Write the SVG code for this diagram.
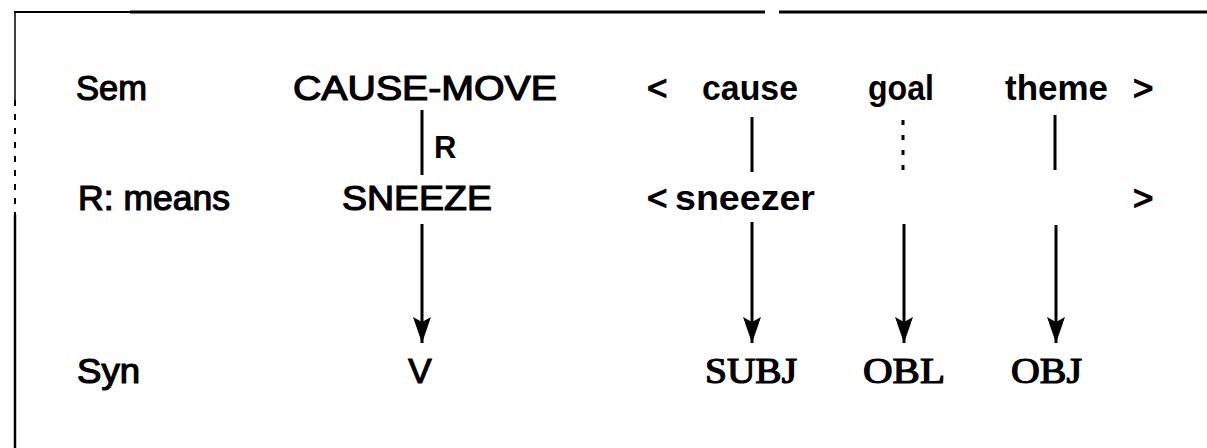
<svg xmlns="http://www.w3.org/2000/svg" width="1207" height="448" viewBox="0 0 1207 448">
  <style>
    .t { font-family: "Liberation Sans", Arial, sans-serif; font-size: 35px; font-weight: normal; fill: #000; stroke: #000; stroke-width: 1.2; }
    .b { font-family: "Liberation Sans", Arial, sans-serif; font-size: 35px; font-weight: bold; fill: #000; }
    .sf { font-family: "Liberation Serif", "Times New Roman", serif; font-size: 35px; font-weight: normal; fill: #000; stroke: #000; stroke-width: 1.2; }
    .s { font-family: "Liberation Sans", Arial, sans-serif; font-size: 31px; font-weight: bold; fill: #000; }
    .ln { stroke: #000; stroke-width: 3; fill: none; }
    .dot { stroke: #000; stroke-width: 3; fill: none; stroke-dasharray: 5 10; }
    .arr { stroke: #000; stroke-width: 3; fill: none; marker-end: url(#ah); }
    .frame { stroke: #000; fill: none; }
  </style>
  <defs>
    <marker id="ah" viewBox="0 0 26 18" refX="26" refY="9" markerWidth="26" markerHeight="18" markerUnits="userSpaceOnUse" orient="auto">
      <path d="M0,0 L26,9 L0,18 L5,9 z" fill="#000"/>
    </marker>
  </defs>
  <rect width="1207" height="448" fill="#fff"/>

  <g id="frame">
    <line class="frame" x1="14" y1="12" x2="130" y2="12" stroke-width="2"/>
    <line class="frame" x1="130" y1="12" x2="765" y2="12" stroke-width="3"/>
    <line class="frame" x1="779" y1="12" x2="1207" y2="12" stroke-width="3"/>
    <line class="frame" x1="15" y1="12" x2="15" y2="100" stroke-width="1.5"/>
    <line class="frame" x1="15" y1="100" x2="15" y2="215" stroke-width="2" stroke-dasharray="6 8"/>
    <line class="frame" x1="15" y1="215" x2="15" y2="448" stroke-width="2.5"/>
  </g>

  <g id="row-labels">
    <text id="lbl-sem" class="t" x="76" y="100" textLength="71" lengthAdjust="spacingAndGlyphs">Sem</text>
    <text id="lbl-rmeans" class="t" x="78" y="210" textLength="152" lengthAdjust="spacingAndGlyphs">R: means</text>
    <text id="lbl-syn" class="t" x="77" y="383" textLength="63" lengthAdjust="spacingAndGlyphs">Syn</text>
  </g>

  <g id="node-cause-move"><text class="t" x="293" y="100" textLength="264" lengthAdjust="spacingAndGlyphs">CAUSE-MOVE</text></g>
  <g id="node-sem-lt"><text class="t" x="647" y="100">&lt;</text></g>
  <g id="node-cause"><text class="b" x="702" y="100" textLength="96" lengthAdjust="spacingAndGlyphs">cause</text></g>
  <g id="node-goal"><text class="b" x="868" y="100" textLength="66" lengthAdjust="spacingAndGlyphs">goal</text></g>
  <g id="node-theme"><text class="b" x="1005" y="100" textLength="103" lengthAdjust="spacingAndGlyphs">theme</text></g>
  <g id="node-sem-gt"><text class="t" x="1133" y="100">&gt;</text></g>

  <g id="node-r-label"><text class="s" x="434" y="158">R</text></g>

  <g id="node-sneeze"><text class="t" x="342" y="210" textLength="150" lengthAdjust="spacingAndGlyphs">SNEEZE</text></g>
  <g id="node-r-lt"><text class="t" x="647" y="210">&lt;</text></g>
  <g id="node-sneezer"><text class="b" x="675" y="210" textLength="140" lengthAdjust="spacingAndGlyphs">sneezer</text></g>
  <g id="node-r-gt"><text class="t" x="1133" y="210">&gt;</text></g>

  <g id="node-v"><text class="t" x="420" y="383" text-anchor="middle">V</text></g>
  <g id="node-subj"><text class="sf" x="705" y="383" textLength="92" lengthAdjust="spacingAndGlyphs">SUBJ</text></g>
  <g id="node-obl"><text class="sf" x="863" y="383" textLength="82" lengthAdjust="spacingAndGlyphs">OBL</text></g>
  <g id="node-obj"><text class="sf" x="1011" y="383" textLength="71" lengthAdjust="spacingAndGlyphs">OBJ</text></g>

  <g id="connectors">
    <line class="ln" x1="422" y1="110" x2="422" y2="175"/>
    <line class="ln" x1="752" y1="117" x2="752" y2="172"/>
    <line class="dot" x1="903" y1="120" x2="903" y2="172"/>
    <line class="ln" x1="1055" y1="115" x2="1055" y2="170"/>
    <line class="arr" x1="422" y1="224" x2="422" y2="343"/>
    <line class="arr" x1="752" y1="222" x2="752" y2="343"/>
    <line class="arr" x1="904" y1="224" x2="904" y2="343"/>
    <line class="arr" x1="1056" y1="225" x2="1056" y2="343"/>
  </g>
</svg>
